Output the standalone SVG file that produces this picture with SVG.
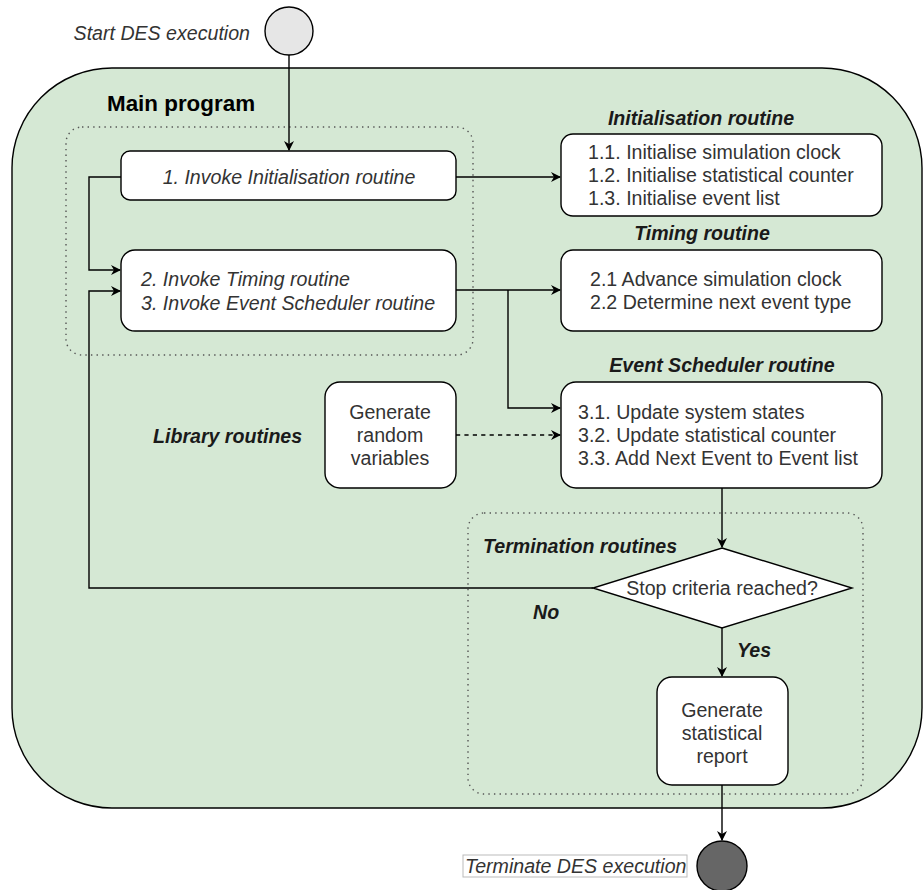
<svg xmlns="http://www.w3.org/2000/svg" width="924" height="890" viewBox="0 0 924 890">
<defs>
<marker id="arr" viewBox="0 0 10 10" refX="9" refY="5" markerWidth="10" markerHeight="10" markerUnits="userSpaceOnUse" orient="auto">
<path d="M0,0 L10,5 L0,10 L3,5 Z" fill="#000"/>
</marker>
<style>
text{font-family:"Liberation Sans",Arial,sans-serif;font-size:19.6px;fill:#333}
.it{font-style:italic}
.bi{font-style:italic;font-weight:bold;fill:#1a1a1a}
.c{text-anchor:middle}
.box{fill:#fff;stroke:#000;stroke-width:1.4}
.grp{fill:none;stroke:#555;stroke-width:1.4;stroke-dasharray:1.4 4.2}
.edge{fill:none;stroke:#000;stroke-width:1.4}
</style>
</defs>
<rect width="924" height="890" fill="#fff"/>
<g id="main">
<rect x="12" y="68" width="910" height="740" rx="100" ry="100" fill="#d5e8d4" stroke="#000" stroke-width="1.4"/>
<text x="107" y="111" style="font-weight:bold;font-size:22.4px;fill:#000">Main program</text>
</g>
<g id="group-main">
<rect class="grp" x="66" y="127" width="407" height="228" rx="16"/>
</g>
<g id="group-term">
<rect class="grp" x="468" y="513" width="395" height="281" rx="16"/>
</g>
<g id="start">
<circle cx="289" cy="31" r="24" fill="#e6e6e6" stroke="#000" stroke-width="1.4"/>
<text class="it" x="250" y="40" text-anchor="end">Start DES execution</text>
</g>
<g id="n1">
<rect class="box" x="121" y="151" width="335" height="49" rx="9"/>
<text class="it c" x="289" y="184">1. Invoke Initialisation routine</text>
</g>
<g id="n2">
<rect class="box" x="121" y="250" width="335" height="81" rx="14"/>
<text class="it" x="141" y="286">2. Invoke Timing routine</text>
<text class="it" x="141" y="310">3. Invoke Event Scheduler routine</text>
</g>
<g id="init">
<text class="bi c" x="701" y="125">Initialisation routine</text>
<rect class="box" x="561" y="134" width="321" height="82" rx="12"/>
<text x="588" y="159">1.1. Initialise simulation clock</text>
<text x="588" y="182">1.2. Initialise statistical counter</text>
<text x="588" y="205">1.3. Initialise event list</text>
</g>
<g id="timing">
<text class="bi c" x="702" y="240">Timing routine</text>
<rect class="box" x="561" y="250" width="321" height="81" rx="12"/>
<text x="590" y="286">2.1 Advance simulation clock</text>
<text x="590" y="309">2.2 Determine next event type</text>
</g>
<g id="sched">
<text class="bi c" x="722" y="372">Event Scheduler routine</text>
<rect class="box" x="561" y="382" width="321" height="106" rx="15"/>
<text x="578" y="419">3.1. Update system states</text>
<text x="578" y="442">3.2. Update statistical counter</text>
<text x="578" y="465">3.3. Add Next Event to Event list</text>
</g>
<g id="lib">
<text class="bi" x="153" y="443">Library routines</text>
<rect class="box" x="325" y="382" width="131" height="106" rx="15"/>
<text class="c" x="390" y="419">Generate</text>
<text class="c" x="390" y="442">random</text>
<text class="c" x="390" y="465">variables</text>
</g>
<g id="decision">
<text class="bi" x="483" y="553">Termination routines</text>
<polygon points="722,548 852,588 722,628 593,588" fill="#fff" stroke="#000" stroke-width="1.4"/>
<text class="c" x="722" y="595">Stop criteria reached?</text>
</g>
<g id="report">
<rect class="box" x="657" y="677" width="131" height="108" rx="15"/>
<text class="c" x="722" y="717">Generate</text>
<text class="c" x="722" y="740">statistical</text>
<text class="c" x="722" y="763">report</text>
</g>
<g id="end">
<rect x="463" y="855" width="224" height="22" fill="#fff" stroke="#bbb" stroke-width="1"/>
<text class="it" x="465" y="873">Terminate DES execution</text>
<circle cx="722" cy="866" r="25" fill="#666" stroke="#000" stroke-width="1.4"/>
</g>
<g id="connectors">
<path class="edge" d="M289,55 L289,150" marker-end="url(#arr)"/>
<path class="edge" d="M456,177 L560,177" marker-end="url(#arr)"/>
<path class="edge" d="M121,177 L89,177 L89,270 L120,270" marker-end="url(#arr)"/>
<path class="edge" d="M593,588 L89,588 L89,291 L120,291" marker-end="url(#arr)"/>
<path class="edge" d="M456,290 L560,290" marker-end="url(#arr)"/>
<path class="edge" d="M508,290 L508,408 L560,408" marker-end="url(#arr)"/>
<path class="edge" d="M456,435 L560,435" stroke-dasharray="4.2 4.2" marker-end="url(#arr)"/>
<path class="edge" d="M722,488 L722,547" marker-end="url(#arr)"/>
<path class="edge" d="M722,628 L722,676" marker-end="url(#arr)"/>
<path class="edge" d="M722,785 L722,840" marker-end="url(#arr)"/>
<text class="bi" x="533" y="619">No</text>
<text class="bi" x="737" y="657">Yes</text>
</g>
</svg>
